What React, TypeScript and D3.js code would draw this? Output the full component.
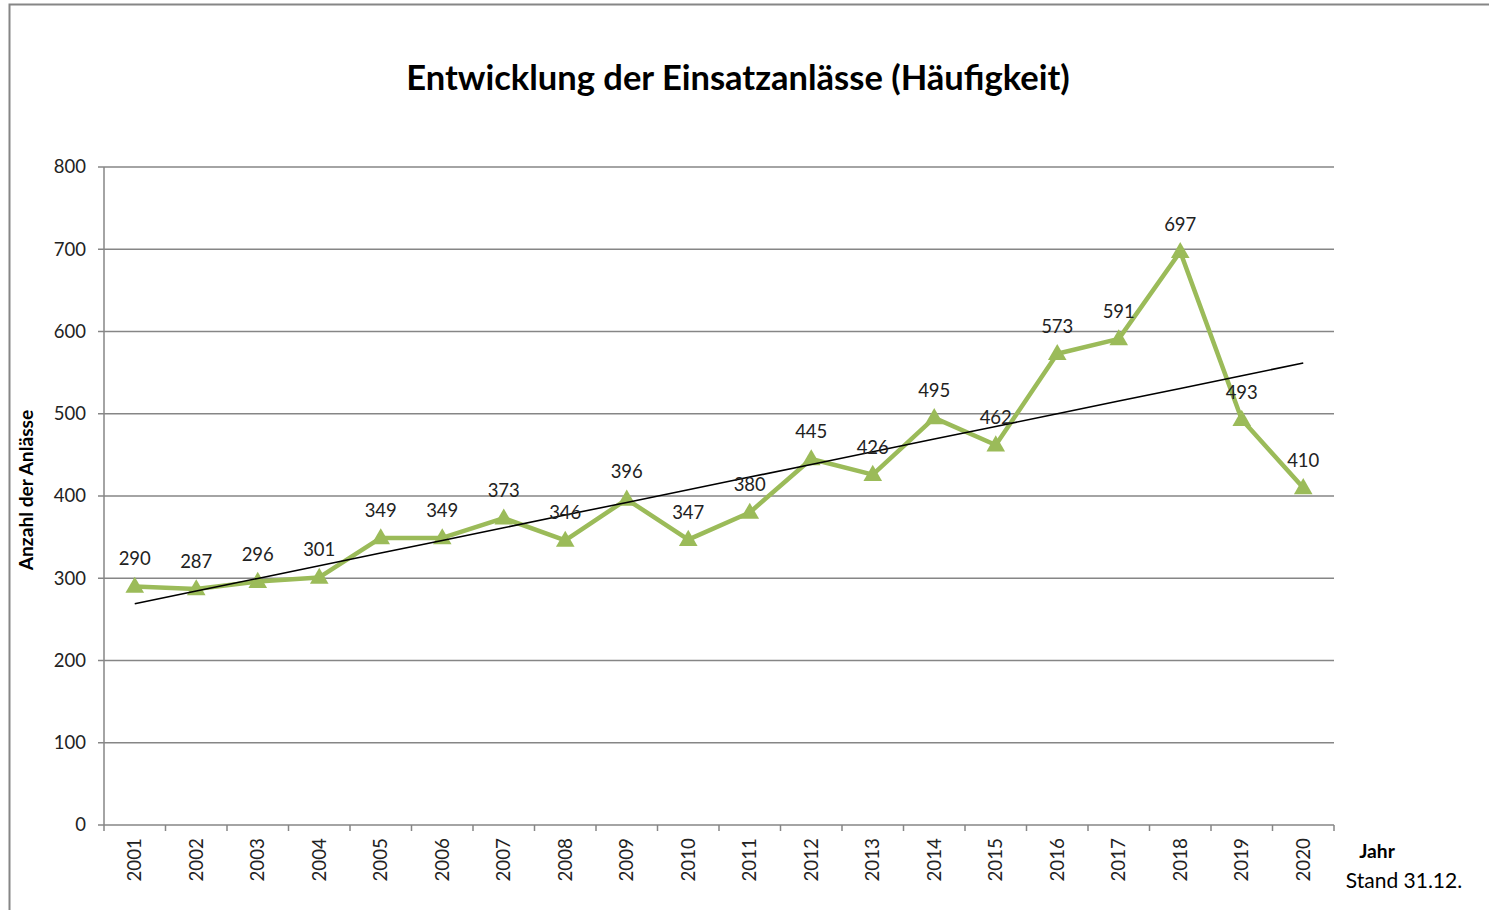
import React, { useEffect, useRef } from "react";
import * as d3 from "d3";

const years = [
  "2001", "2002", "2003", "2004", "2005", "2006", "2007", "2008", "2009", "2010",
  "2011", "2012", "2013", "2014", "2015", "2016", "2017", "2018", "2019", "2020",
];
const counts = [
  290, 287, 296, 301, 349, 349, 373, 346, 396, 347,
  380, 445, 426, 495, 462, 573, 591, 697, 493, 410,
];
const yTicks = [0, 100, 200, 300, 400, 500, 600, 700, 800];

const W = 1489;
const H = 910;
const FONT = "Lato, 'Open Sans', sans-serif";

const App: React.FC = () => {
  const svgRef = useRef<SVGSVGElement>(null);

  useEffect(() => {
    if (!svgRef.current) return;
    const svg = d3.select(svgRef.current);
    svg.selectAll("*").remove();

    const margin = { top: 167, right: 155, bottom: 85, left: 104 };
    const width = W - margin.left - margin.right;
    const height = H - margin.top - margin.bottom;

    // outer frame (only left and top visible)
    svg
      .append("rect")
      .attr("x", 9.5)
      .attr("y", 4.5)
      .attr("width", W + 20)
      .attr("height", H + 20)
      .attr("fill", "white")
      .attr("stroke", "#868686")
      .attr("stroke-width", 2);

    svg
      .append("text")
      .attr("x", 738)
      .attr("y", 90)
      .attr("text-anchor", "middle")
      .attr("font-family", FONT)
      .attr("font-weight", "bold")
      .attr("font-size", 34.5)
      .attr("fill", "#000")
      .text("Entwicklung der Einsatzanlässe (Häufigkeit)");

    const chart = svg
      .append("g")
      .attr("transform", `translate(${margin.left},${margin.top})`);

    const x = d3.scaleBand().domain(years).range([0, width]);
    const y = d3.scaleLinear().domain([0, 800]).range([height, 0]);
    const cx = (d: string) => (x(d) || 0) + x.bandwidth() / 2;

    // gridlines
    chart
      .append("g")
      .selectAll("line")
      .data(yTicks)
      .enter()
      .append("line")
      .attr("x1", -6)
      .attr("x2", width)
      .attr("y1", (d) => y(d))
      .attr("y2", (d) => y(d))
      .attr("stroke", "#868686")
      .attr("stroke-width", 1.5);

    chart
      .append("g")
      .selectAll("text")
      .data(yTicks)
      .enter()
      .append("text")
      .attr("x", -18)
      .attr("y", (d) => y(d))
      .attr("dy", "0.35em")
      .attr("text-anchor", "end")
      .attr("font-family", FONT)
      .attr("font-size", 18.5)
      .attr("fill", "#222")
      .text((d) => d);

    // y axis line
    chart
      .append("line")
      .attr("x1", 0)
      .attr("x2", 0)
      .attr("y1", 0)
      .attr("y2", height)
      .attr("stroke", "#868686")
      .attr("stroke-width", 1.5);

    // x axis ticks
    const bounds = years.map((d) => x(d) || 0).concat([width]);
    chart
      .append("g")
      .selectAll("line")
      .data(bounds)
      .enter()
      .append("line")
      .attr("x1", (d) => d)
      .attr("x2", (d) => d)
      .attr("y1", height)
      .attr("y2", height + 6)
      .attr("stroke", "#868686")
      .attr("stroke-width", 1.5);

    chart
      .append("g")
      .selectAll("text")
      .data(years)
      .enter()
      .append("text")
      .attr(
        "transform",
        (d) => `translate(${cx(d)},${height + 13}) rotate(-90)`
      )
      .attr("dy", "0.35em")
      .attr("text-anchor", "end")
      .attr("font-family", FONT)
      .attr("font-size", 18.8)
      .attr("fill", "#222")
      .text((d) => d);

    // axis titles
    svg
      .append("text")
      .attr("transform", "translate(33,490) rotate(-90)")
      .attr("text-anchor", "middle")
      .attr("font-family", FONT)
      .attr("font-weight", "bold")
      .attr("font-size", 19.2)
      .attr("fill", "#000")
      .text("Anzahl der Anlässe");

    svg
      .append("text")
      .attr("x", 1377)
      .attr("y", 858)
      .attr("text-anchor", "middle")
      .attr("font-family", FONT)
      .attr("font-weight", "bold")
      .attr("font-size", 19.2)
      .attr("fill", "#000")
      .text("Jahr");

    svg
      .append("text")
      .attr("x", 1404)
      .attr("y", 888)
      .attr("text-anchor", "middle")
      .attr("font-family", FONT)
      .attr("font-size", 21)
      .attr("fill", "#000")
      .text("Stand 31.12.");

    // series line
    const line = d3
      .line<number>()
      .x((_, i) => cx(years[i]))
      .y((d) => y(d));

    chart
      .append("path")
      .datum(counts)
      .attr("d", line)
      .attr("fill", "none")
      .attr("stroke", "#9BBB59")
      .attr("stroke-width", 4.5)
      .attr("stroke-linejoin", "round");

    // linear trend (least squares)
    const idx = counts.map((_, i) => i);
    const mx = d3.mean(idx) || 0;
    const my = d3.mean(counts) || 0;
    const slope =
      d3.sum(idx, (i) => (i - mx) * (counts[i] - my)) /
      d3.sum(idx, (i) => (i - mx) * (i - mx));
    const icpt = my - slope * mx;
    const trend = idx.map((i) => icpt + slope * i);

    // markers
    const tri = d3.symbol().type(d3.symbolTriangle).size(150);
    chart
      .append("g")
      .selectAll("path")
      .data(counts)
      .enter()
      .append("path")
      .attr("d", tri)
      .attr(
        "transform",
        (d, i) => `translate(${cx(years[i])},${y(d) + 1})`
      )
      .attr("fill", "#9BBB59");

    chart
      .append("path")
      .datum(trend)
      .attr("d", line)
      .attr("fill", "none")
      .attr("stroke", "#000")
      .attr("stroke-width", 1.6);

    // data labels
    chart
      .append("g")
      .selectAll("text")
      .data(counts)
      .enter()
      .append("text")
      .attr("x", (d, i) => cx(years[i]))
      .attr("y", (d) => y(d) - 21)
      .attr("text-anchor", "middle")
      .attr("font-family", FONT)
      .attr("font-size", 18.5)
      .attr("fill", "#222")
      .text((d) => d);
  }, []);

  return (
    <div style={{ position: "absolute", left: 0, top: 0 }}>
      <svg ref={svgRef} width={W} height={H} style={{ display: "block" }} />
    </div>
  );
};

export default App;
